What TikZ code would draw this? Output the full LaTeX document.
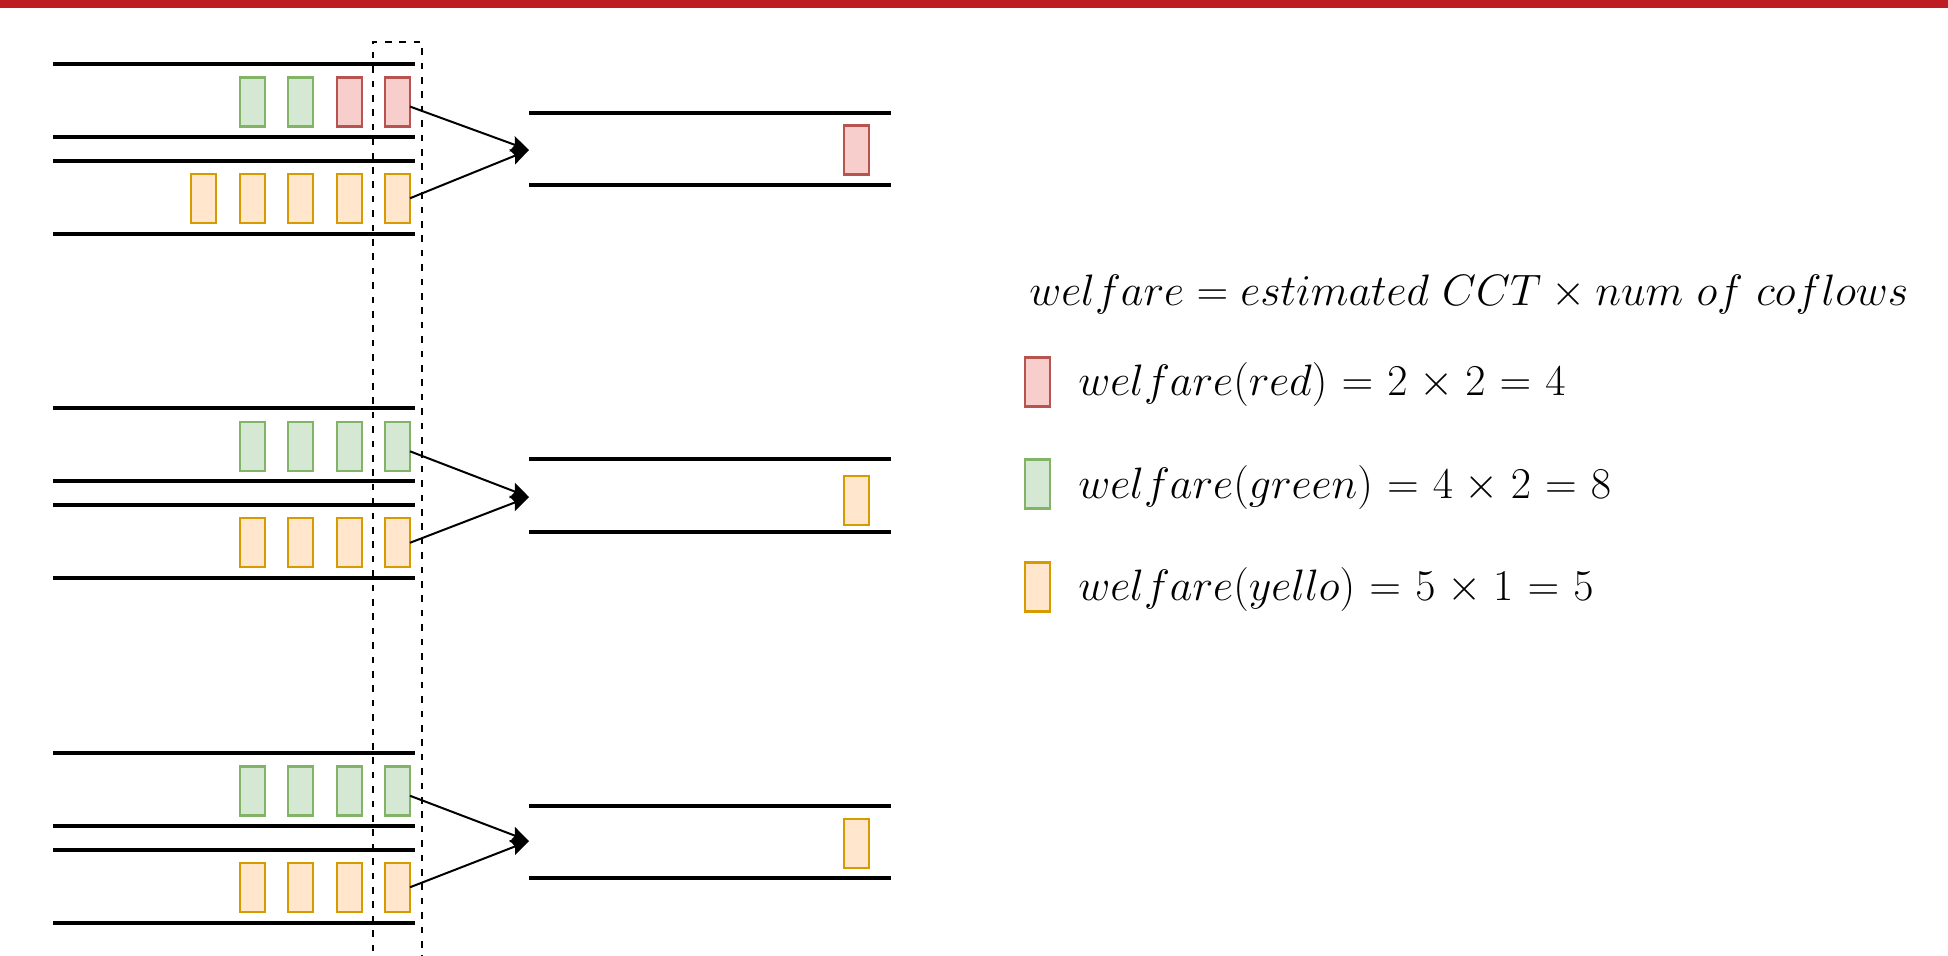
\documentclass[tikz,border=0pt]{standalone}
\usepackage{fix-cm}
\usetikzlibrary{arrows.meta}
\definecolor{topred}{RGB}{190,30,35}
\definecolor{gfill}{HTML}{D5E8D4}\definecolor{gdraw}{HTML}{82B366}
\definecolor{rfill}{HTML}{F8CECC}\definecolor{rdraw}{HTML}{B85450}
\definecolor{yfill}{HTML}{FFE6CC}\definecolor{ydraw}{HTML}{D79B00}
\newcommand\wideops{\thickmuskip=5.8mu\relax\medmuskip=4.8mu\relax}
\tikzset{
  chip/.style={minimum width=12.5pt, minimum height=24.5pt, inner sep=0pt, outer sep=0pt, line width=1.05pt},
  gchip/.style={chip, fill=gfill, draw=gdraw},
  rchip/.style={chip, fill=rfill, draw=rdraw},
  ychip/.style={chip, fill=yfill, draw=ydraw},
  chan/.style={line width=2pt},
  flow/.style={line width=1pt, -{Stealth[length=9pt, width=8pt, inset=1.5pt]}},
  frame/.style={line width=1pt, dash pattern=on 3.3pt off 3.9pt},
  eq/.style={anchor=base west, inner sep=0pt, font=\fontsize{22}{26}\selectfont},
}
\begin{document}
\begin{tikzpicture}[x=0.5pt, y=-0.5pt]
\useasboundingbox (0,0) rectangle (1948,955);
\clip (0,0) rectangle (1948,955);
\fill[topred] (0,0) rectangle (1948,7.5);
% dashed selection frame
\draw[frame] (373,980) -- (373,41.5) -- (421.5,41.5) -- (421.5,980);
% left channels of the three groups
\foreach \B in {63.5, 408, 752.5} {
  \draw[chan] (53,\B) -- (415,\B);
  \draw[chan] (53,\B+73) -- (415,\B+73);
  \draw[chan] (53,\B+97) -- (415,\B+97);
  \draw[chan] (53,\B+170) -- (415,\B+170);
}
% right channels
\foreach \g/\u/\l/\t in {0/113/185/150, 1/459/532/497, 2/806/878/841} {
  \draw[chan] (529,\u) -- (891,\u);
  \draw[chan] (529,\l) -- (891,\l);
  \coordinate (tip\g) at (529,\t);
}
% group 1 chips
\node[gchip] (a3) at (252.3,102) {};
\node[gchip] (a2) at (300.7,102) {};
\node[rchip] (a1) at (349.1,102) {};
\node[rchip] (a0) at (397.5,102) {};
\node[ychip] (b4) at (203.9,198.25) {};
\node[ychip] (b3) at (252.3,198.25) {};
\node[ychip] (b2) at (300.7,198.25) {};
\node[ychip] (b1) at (349.1,198.25) {};
\node[ychip] (b0) at (397.5,198.25) {};
\node[rchip] (c0) at (856.5,150) {};
% group 2 chips
\node[gchip] (d3) at (252.3,446.5) {};
\node[gchip] (d2) at (300.7,446.5) {};
\node[gchip] (d1) at (349.1,446.5) {};
\node[gchip] (d0) at (397.5,446.5) {};
\node[ychip] (e3) at (252.3,542.75) {};
\node[ychip] (e2) at (300.7,542.75) {};
\node[ychip] (e1) at (349.1,542.75) {};
\node[ychip] (e0) at (397.5,542.75) {};
\node[ychip] (f0) at (856.5,500.5) {};
% group 3 chips
\node[gchip] (g3) at (252.3,791) {};
\node[gchip] (g2) at (300.7,791) {};
\node[gchip] (g1) at (349.1,791) {};
\node[gchip] (g0) at (397.5,791) {};
\node[ychip] (h3) at (252.3,887.25) {};
\node[ychip] (h2) at (300.7,887.25) {};
\node[ychip] (h1) at (349.1,887.25) {};
\node[ychip] (h0) at (397.5,887.25) {};
\node[ychip] (k0) at (856.5,843.5) {};
% arrows
\draw[flow] (a0) -- (tip0);
\draw[flow] (b0.east) -- (tip0);
\draw[flow] (d0) -- (tip1);
\draw[flow] (e0.east) -- (tip1);
\draw[flow] (g0) -- (tip2);
\draw[flow] (h0.east) -- (tip2);
% legend
\node[eq] (def) at (1029,305) {$welfare = estimated\ CCT \times num\ of\ coflows$};
\node[rchip] (lr) at (1037.5,382) {};
\node[gchip] (lg) at (1037.5,484) {};
\node[ychip] (ly) at (1037.5,587) {};
\node[eq] (tr) at (1078,395) {$\wideops welfare(red) = 2\times 2 = 4$};
\node[eq] (tg) at (1078,498) {$\wideops welfare(green) = 4\times 2 = 8$};
\node[eq] (ty) at (1078,600) {$\wideops welfare(yello) = 5\times 1 = 5$};
\end{tikzpicture}
\end{document}
